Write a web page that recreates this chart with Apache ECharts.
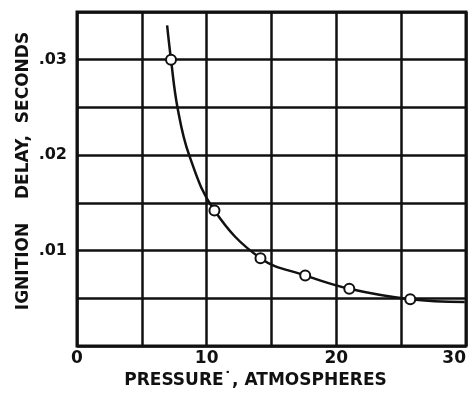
<!DOCTYPE html>
<html>
<head>
<meta charset="utf-8">
<script src="https://cdn.jsdelivr.net/npm/echarts@6/dist/echarts.min.js"></script>
<style>
  html, body { margin: 0; padding: 0; background: #fff; }
  #chart { width: 469px; height: 402px; }
</style>
</head>
<body>
<div id="chart"></div>
<script>
  // pressure (atm) / ignition delay (s)
  var pressure = [7.25, 10.6, 14.15, 17.6, 21.0, 25.7];
  var delay = [0.030, 0.0142, 0.0092, 0.0074, 0.0060, 0.0049];

  // the drawn curve
  var curveX = [6.95, 7.25, 7.75, 8.65, 10.6, 14.15, 17.6, 21.0, 25.7, 29.9];
  var curveY = [0.0336, 0.030, 0.025, 0.020, 0.0142, 0.0092, 0.0074, 0.0060, 0.0049, 0.0046];

  var xTickLabels = {0: '0', 10: '10', 20: '20', 30: '30'};
  var yTickLabels = {10: '.01', 20: '.02', 30: '.03'}; // keyed by value * 1000

  var font = '"DejaVu Sans", sans-serif';

  var myChart = echarts.init(document.getElementById('chart'));
  var option = {
    backgroundColor: '#fff',
    animation: false,
    grid: {
      left: 77,
      top: 12,
      right: 1,
      bottom: 56,
      show: true,
      borderColor: '#111',
      borderWidth: 3
    },
    xAxis: {
      type: 'value',
      min: 0,
      max: 30,
      interval: 5,
      name: 'PRESSURE˙, ATMOSPHERES',
      nameLocation: 'middle',
      nameGap: 24,
      nameTextStyle: {
        color: '#111', fontFamily: font, fontWeight: 'bold', fontSize: 17,
        padding: [0, 32, 0, 0]
      },
      axisLine: { show: false },
      axisTick: { show: false },
      axisLabel: {
        color: '#111', fontFamily: font, fontWeight: 'bold', fontSize: 17,
        margin: 4,
        alignMaxLabel: 'right',
        formatter: function (v) { return xTickLabels[v] || ''; }
      },
      splitLine: { lineStyle: { color: '#111', width: 2.5 } }
    },
    yAxis: {
      type: 'value',
      min: 0,
      max: 0.035,
      interval: 0.005,
      name: 'IGNITION    DELAY,  SECONDS',
      nameLocation: 'middle',
      nameGap: 45,
      nameMoveOverlap: false,
      nameRotate: 90,
      nameTextStyle: {
        color: '#111', fontFamily: font, fontWeight: 'bold', fontSize: 17,
        padding: [0, 0, 0, 16]
      },
      axisLine: { show: false },
      axisTick: { show: false },
      axisLabel: {
        color: '#111', fontFamily: font, fontWeight: 'bold', fontSize: 16,
        margin: 10,
        formatter: function (v) { return yTickLabels[Math.round(v * 1000)] || ''; }
      },
      splitLine: { lineStyle: { color: '#111', width: 2.5 } }
    },
    series: [
      {
        type: 'line',
        smooth: 0.4,
        showSymbol: false,
        lineStyle: { color: '#111', width: 2.5 },
        data: curveX.map(function (x, i) { return [x, curveY[i]]; }),
        z: 2
      },
      {
        type: 'scatter',
        symbol: 'circle',
        symbolSize: 10,
        itemStyle: { color: '#fff', borderColor: '#111', borderWidth: 2, opacity: 1 },
        data: pressure.map(function (x, i) { return [x, delay[i]]; }),
        z: 3
      }
    ]
  };
  myChart.setOption(option);
</script>
</body>
</html>
